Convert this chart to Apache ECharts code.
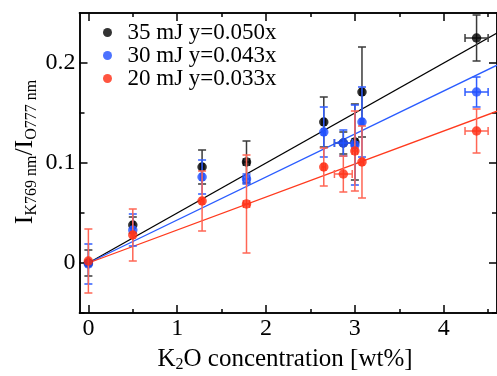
<!DOCTYPE html>
<html>
<head>
<meta charset="utf-8">
<script src="https://cdn.jsdelivr.net/npm/echarts@6/dist/echarts.min.js"></script>
<style>html,body{margin:0;padding:0;background:#fff}#c{width:497px;height:376px}</style>
</head>
<body>
<div id="c"></div>
<script>
// K2O concentration [wt%]
const xVals = [0, 0.5, 1.28, 1.78, 2.65, 2.87, 3.0, 3.08, 4.37];
const xErr  = [0, 0.02, 0.02, 0.035, 0.02, 0.1, 0.03, 0.02, 0.13];
// 35 mJ
const y35    = [0.000, 0.038, 0.096, 0.101, 0.141, 0.120, 0.121, 0.171, 0.225];
const y35Err = [0.013, 0.008, 0.017, 0.021, 0.025, 0.011, 0.038, 0.045, 0.023];
// 30 mJ
const y30    = [-0.001, 0.033, 0.086, 0.084, 0.131, 0.120, 0.118, 0.141, 0.171];
const y30Err = [0.020, 0.016, 0.017, 0.005, 0.025, 0.013, 0.040, 0.035, 0.015];
// 20 mJ
const y20    = [0.002, 0.028, 0.062, 0.059, 0.096, 0.089, 0.112, 0.101, 0.132];
const y20Err = [0.032, 0.026, 0.030, 0.049, 0.019, 0.018, 0.040, 0.036, 0.022];
// fit slopes
const seriesNames = ['35 mJ y=0.050x', '30 mJ y=0.043x', '20 mJ y=0.033x'];
const slopes = [0.050, 0.043, 0.033];
const xTickLabels = [0, 1, 2, 3, 4];
const xMinorTicks = [0.5, 1.5, 2.5, 3.5, 4.5];
const yTickLabels = [0, 0.1, 0.2];
const yMinorTicks = [-0.05, 0.05, 0.15];

const markerColors = ['#000000', '#1f4fff', '#ff2a10'];
const errColors = ['#3a3a3a', '#2f5cff', '#ff6655'];
const lineColors = ['#000000', '#2a5cff', '#ff3a1e'];
const FONT = 'Liberation Serif';
const XMIN = -0.1, XMAX = 4.6, YMIN = -0.05, YMAX = 0.25;

const ys = [y35, y30, y20];
const yerrs = [y35Err, y30Err, y20Err];

function errRender(color) {
  return function (params, api) {
    const x = api.value(0), y = api.value(1), xe = api.value(2), ye = api.value(3);
    const t = api.coord([x, y + ye]);
    const b = api.coord([x, y - ye]);
    const cap = 4;
    const st = { stroke: color, lineWidth: 1.5 };
    const ch = [
      { type: 'line', shape: { x1: t[0], y1: t[1], x2: b[0], y2: b[1] }, style: st },
      { type: 'line', shape: { x1: t[0] - cap, y1: t[1], x2: t[0] + cap, y2: t[1] }, style: st },
      { type: 'line', shape: { x1: b[0] - cap, y1: b[1], x2: b[0] + cap, y2: b[1] }, style: st }
    ];
    if (xe > 0) {
      const l = api.coord([x - xe, y]);
      const r = api.coord([x + xe, y]);
      ch.push({ type: 'line', shape: { x1: l[0], y1: l[1], x2: r[0], y2: r[1] }, style: st });
      ch.push({ type: 'line', shape: { x1: l[0], y1: l[1] - cap, x2: l[0], y2: l[1] + cap }, style: st });
      ch.push({ type: 'line', shape: { x1: r[0], y1: r[1] - cap, x2: r[0], y2: r[1] + cap }, style: st });
    }
    return { type: 'group', children: ch };
  };
}

const series = [];
// fit lines (under markers)
for (let i = 0; i < 3; i++) {
  series.push({
    type: 'line', xAxisIndex: 0, yAxisIndex: 0, silent: true, showSymbol: false, z: 1,
    data: [[0, 0], [XMAX, slopes[i] * XMAX]],
    lineStyle: { color: lineColors[i], width: 1.3 }
  });
}
for (let i = 0; i < 3; i++) {
  series.push({
    type: 'custom', xAxisIndex: 0, yAxisIndex: 0, z: 2 + i * 2,
    renderItem: errRender(errColors[i]),
    encode: { x: 0, y: 1 },
    data: xVals.map((x, k) => [x, ys[i][k], xErr[k], yerrs[i][k]])
  });
  series.push({
    type: 'scatter', name: seriesNames[i], xAxisIndex: 0, yAxisIndex: 0, z: 3 + i * 2,
    symbol: 'circle', symbolSize: 9.5,
    itemStyle: { color: markerColors[i] },
    data: xVals.map((x, k) => [x, ys[i][k]])
  });
}

const axisLineStyle = { color: '#000', width: 1.5 };
function xAx(pos, major, showLabel) {
  return {
    type: 'value', min: XMIN, max: XMAX, position: pos, gridIndex: 0,
    axisLine: { show: true, onZero: false, lineStyle: axisLineStyle },
    axisTick: { show: true, inside: true, length: major ? 8 : 4, lineStyle: axisLineStyle,
      customValues: major ? xTickLabels : xMinorTicks },
    axisLabel: { show: showLabel, customValues: xTickLabels, margin: 4,
      fontFamily: FONT, fontSize: 24, color: '#000' },
    splitLine: { show: false }
  };
}
function yAx(pos, major, showLabel) {
  return {
    type: 'value', min: YMIN, max: YMAX, position: pos, gridIndex: 0,
    axisLine: { show: true, onZero: false, lineStyle: axisLineStyle },
    axisTick: { show: true, inside: true, length: major ? 8 : 5, lineStyle: axisLineStyle,
      customValues: major ? yTickLabels : yMinorTicks },
    axisLabel: { show: showLabel, customValues: yTickLabels, margin: 4,
      fontFamily: FONT, fontSize: 24, color: '#000',
      formatter: v => (v === 0 ? '0' : String(v)) },
    splitLine: { show: false }
  };
}

const chart = echarts.init(document.getElementById('c'), null, { renderer: 'canvas' });
chart.setOption({
  animation: false,
  backgroundColor: '#fff',
  grid: { left: 79.5, top: 13, width: 418.2, height: 300, containLabel: false },
  xAxis: [xAx('bottom', true, true), xAx('bottom', false, false), xAx('top', true, false), xAx('top', false, false)],
  yAxis: [yAx('left', true, true), yAx('left', false, false), yAx('right', true, false), yAx('right', false, false)],
  legend: {
    orient: 'vertical', left: 98, top: 16, itemWidth: 30, itemHeight: 9, itemGap: 0,
    icon: 'circle',
    data: seriesNames,
    textStyle: { fontFamily: FONT, fontSize: 23, color: '#000' }
  },
  graphic: [
    {
      type: 'text', x: 25, y: 152, rotation: Math.PI / 2,
      style: {
        text: '{a|I}{s|K769 nm}{a|/I}{s|O777 nm}',
        align: 'center', verticalAlign: 'middle',
        rich: {
          a: { fontFamily: FONT, fontSize: 26, lineHeight: 30, fill: '#000' },
          s: { fontFamily: FONT, fontSize: 16, lineHeight: 16, verticalAlign: 'bottom', fill: '#000' }
        }
      }
    },
    {
      type: 'text', x: 285, y: 359,
      style: {
        text: '{a|K}{s|2}{a|O concentration [wt%]}',
        align: 'center', verticalAlign: 'middle',
        rich: {
          a: { fontFamily: FONT, fontSize: 25, lineHeight: 28, fill: '#000' },
          s: { fontFamily: FONT, fontSize: 16, lineHeight: 16, verticalAlign: 'bottom', fill: '#000' }
        }
      }
    }
  ],
  series: series
});
</script>
</body>
</html>
